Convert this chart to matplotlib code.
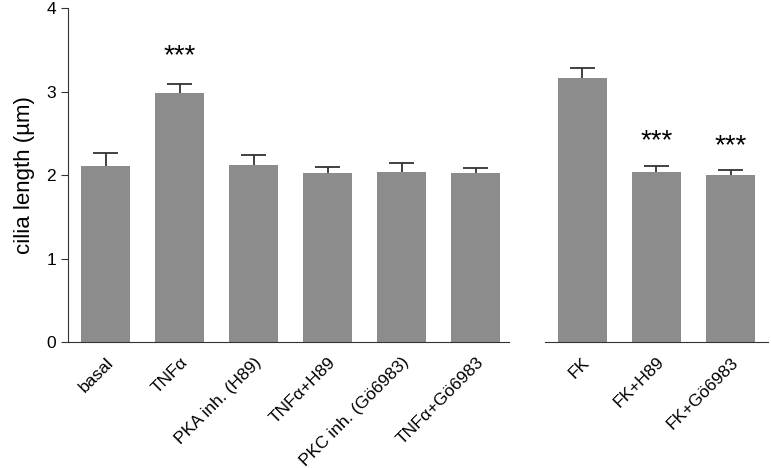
import matplotlib.pyplot as plt

plt.rcParams['font.family'] = ['Liberation Sans', 'DejaVu Sans']

left_labels = ['basal', 'TNF\u03b1', 'PKA inh. (H89)', 'TNF\u03b1+H89',
               'PKC inh. (G\u00f66983)', 'TNF\u03b1+G\u00f66983']
left_means = [2.11, 2.98, 2.12, 2.03, 2.04, 2.02]
left_err = [0.15, 0.11, 0.12, 0.07, 0.10, 0.07]
left_stars = ['', '***', '', '', '', '']
left_star_y = [0, 3.42, 0, 0, 0, 0]

right_labels = ['FK', 'FK+H89', 'FK+G\u00f66983']
right_means = [3.16, 2.04, 2.00]
right_err = [0.12, 0.07, 0.06]
right_stars = ['', '***', '***']
right_star_y = [0, 2.41, 2.35]

bar_color = '#8c8c8c'
err_color = '#333333'

fig = plt.figure(figsize=(7.71, 4.68), dpi=100)
ax1 = fig.add_axes([0.0882, 0.269, 0.572, 0.7137])
ax2 = fig.add_axes([0.7069, 0.269, 0.289, 0.7137])


def draw(ax, labels, means, errs, stars, star_y):
    x = list(range(len(labels)))
    tops = [m + e for m, e in zip(means, errs)]
    ax.bar(x, means, width=0.66, color=bar_color, zorder=2)
    # upper error bars only
    ax.vlines(x, means, tops, color=err_color, lw=1.3, zorder=1)
    ax.hlines(tops, [xi - 0.17 for xi in x], [xi + 0.17 for xi in x],
              color=err_color, lw=1.3, zorder=1)
    for xi, s, sy in zip(x, stars, star_y):
        if s:
            ax.text(xi, sy, s, ha='center', va='center', fontsize=20)
    ax.set_xticks(x)
    ax.set_xticklabels(labels, rotation=45, ha='right', rotation_mode='anchor',
                       fontsize=12.5)
    ax.set_ylim(0, 4)
    ax.spines['top'].set_visible(False)
    ax.spines['right'].set_visible(False)
    ax.tick_params(axis='x', length=0, pad=9)
    for sp in ax.spines.values():
        sp.set_color('#333333')


draw(ax1, left_labels, left_means, left_err, left_stars, left_star_y)
draw(ax2, right_labels, right_means, right_err, right_stars, right_star_y)

ax1.set_xlim(-0.51, 5.45)
ax1.set_yticks([0, 1, 2, 3, 4])
ax1.tick_params(axis='y', labelsize=12.5, length=5, color='#333333')
ax1.set_ylabel('cilia length (\u00b5m)', fontsize=16, labelpad=8)

ax2.set_xlim(-0.5, 2.5)
ax2.spines['left'].set_visible(False)
ax2.set_yticks([])

fig.savefig('out.png', dpi=100)
